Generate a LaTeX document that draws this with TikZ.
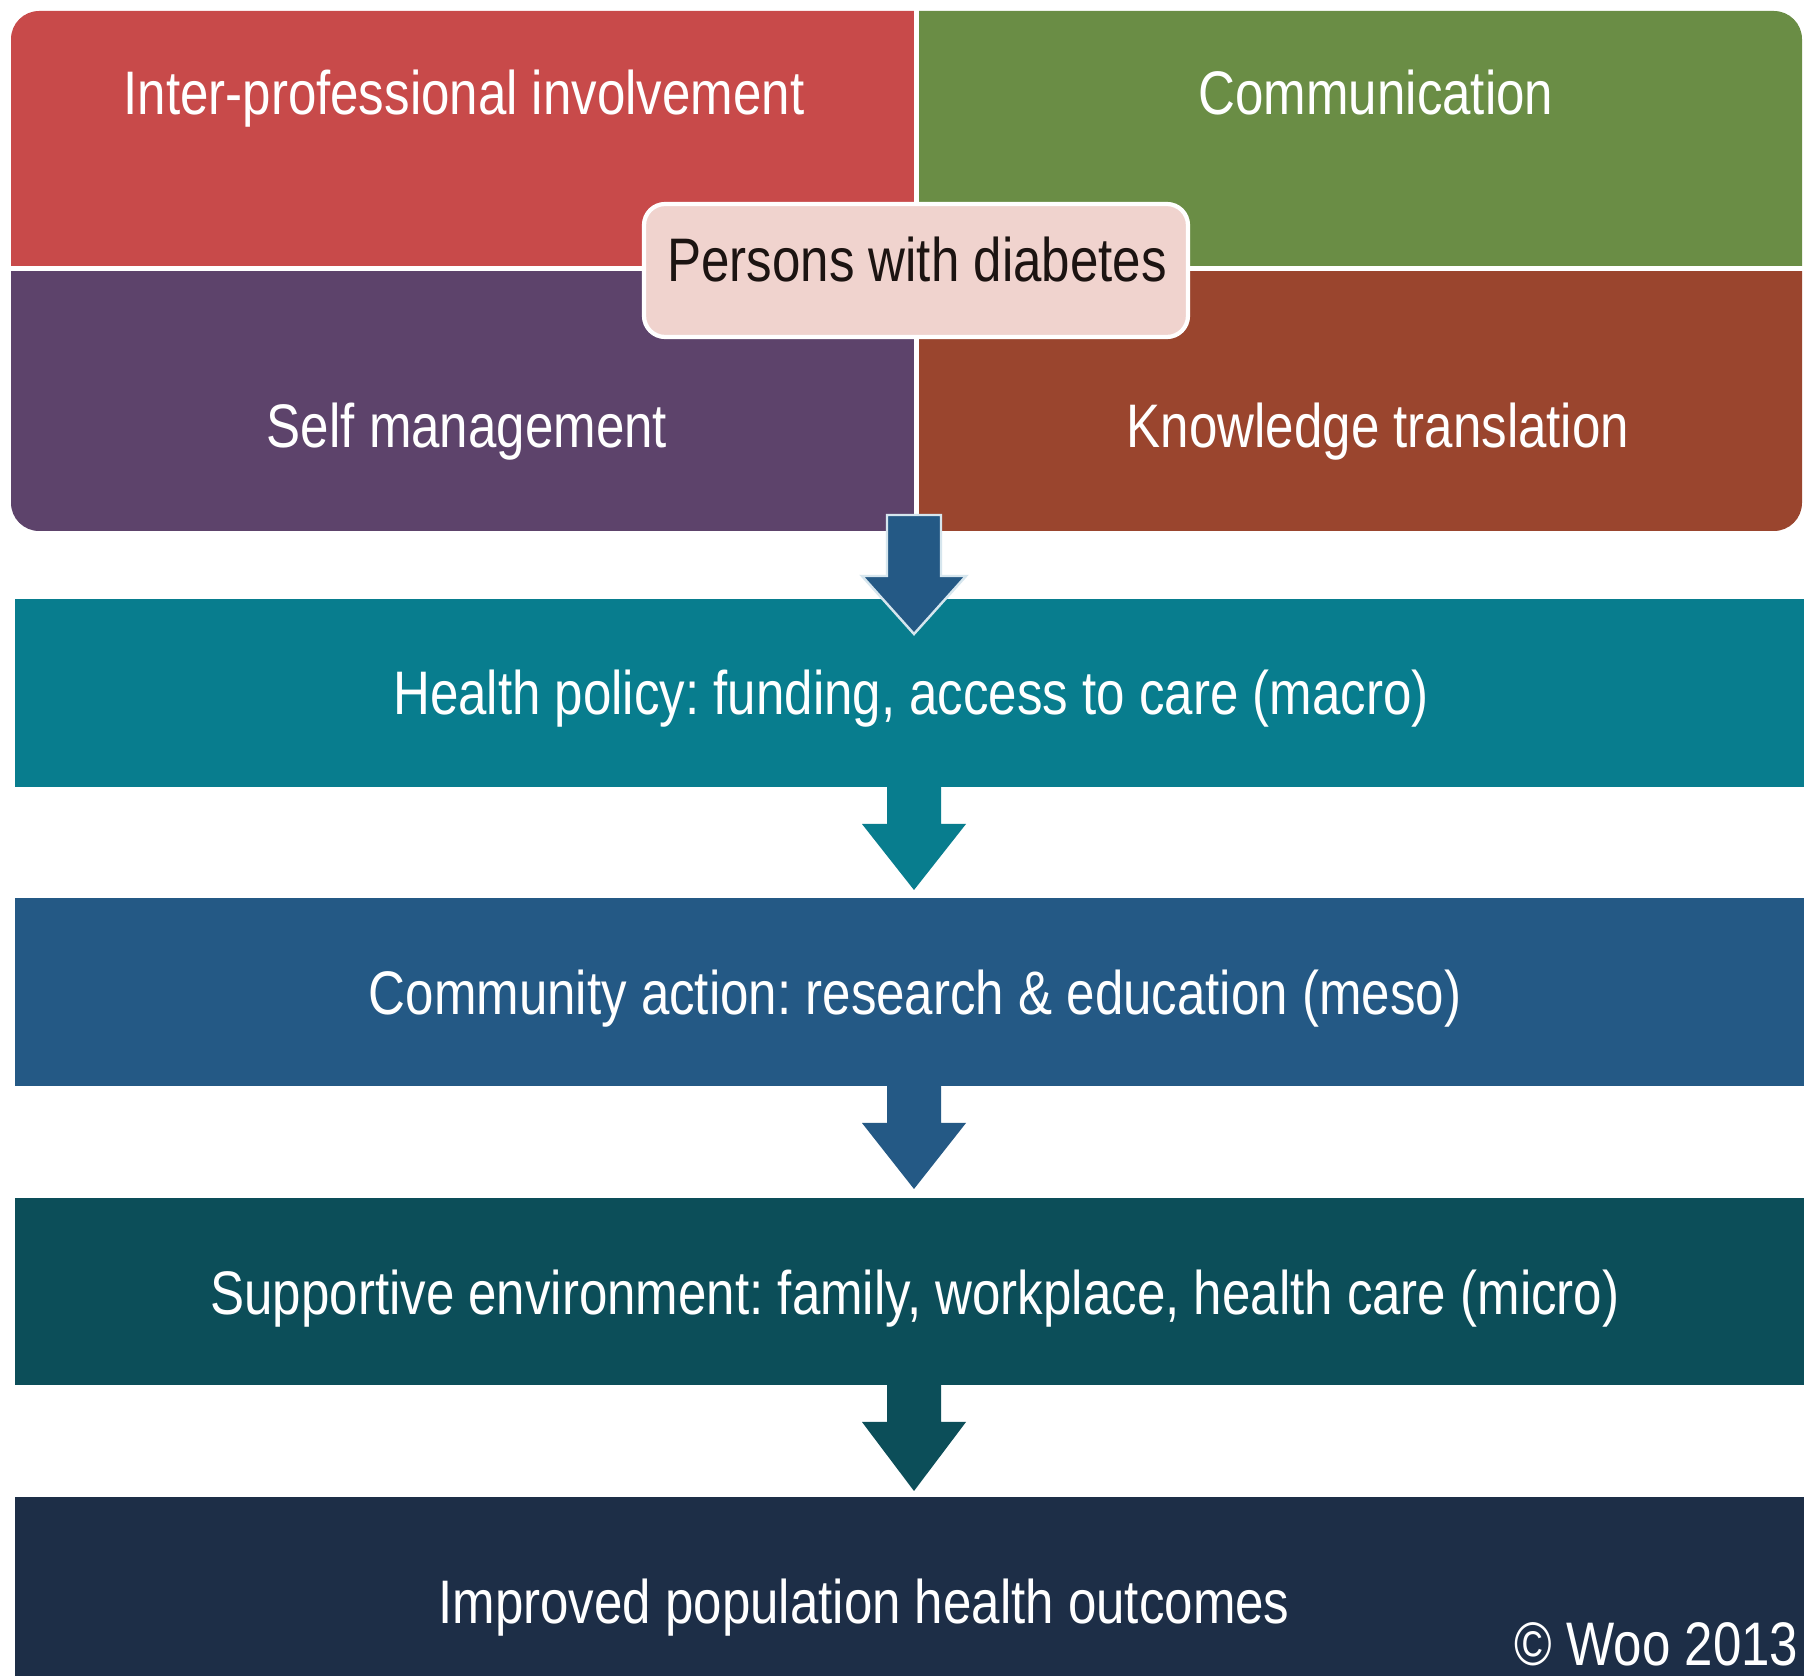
\documentclass[tikz,border=0pt]{standalone}
\usepackage{fontspec}
\setmainfont{Liberation Sans}[FakeStretch=0.83]
\frenchspacing
\definecolor{cRed}{HTML}{C84A4A}
\definecolor{cGreen}{HTML}{6A8D45}
\definecolor{cPurple}{HTML}{5D436B}
\definecolor{cBrown}{HTML}{9A452E}
\definecolor{cPill}{HTML}{F0D3CE}
\definecolor{cMacro}{HTML}{087D8E}
\definecolor{cMeso}{HTML}{245985}
\definecolor{cMicro}{HTML}{0C4E59}
\definecolor{cOutcome}{HTML}{1D2E47}
\definecolor{cEdge}{HTML}{D6E6EE}
\definecolor{cInk}{HTML}{1C1412}
\begin{document}
\begin{tikzpicture}[x=0.1mm,y=-0.1mm,
  lbl/.style={text=white, font=\fontsize{17.5}{21}\selectfont,
    inner sep=0pt, anchor=base},
  band/.style={minimum width=179mm, inner sep=0pt, anchor=north west},
  pill/.style={fill=cPill, draw=white, line width=1.2pt, rounded corners=6pt,
    minimum width=54.4mm, minimum height=13.3mm, inner sep=0pt}]
\useasboundingbox (0,0) rectangle (1804,1676);
\fill[white] (0,0) rectangle (1804,1676);

% four quadrants of the upper block
\begin{scope}
  \clip[rounded corners=8pt] (11,11) rectangle (1802,531);
  \fill[cRed]    (0,0)     rectangle (914,266);
  \fill[cGreen]  (919,0)   rectangle (1804,266);
  \fill[cPurple] (0,271)   rectangle (914,540);
  \fill[cBrown]  (919,271) rectangle (1804,540);
\end{scope}
\node[lbl] (inter) at (464,115)  {Inter-professional involvement};
\node[lbl] (comm)  at (1376,115) {Communication};
\node[lbl] (self)  at (467,448)  {Self management};
\node[lbl] (know)  at (1378,448) {Knowledge translation};
\node[pill] (pwd) at (916,270.5) {};
\node[lbl, text=cInk] (pwdtext) at (917,282) {Persons with diabetes};

% horizontal levels
\node[band, fill=cMacro,   minimum height=18.8mm] (macro)   at (14,598)  {};
\node[band, fill=cMeso,    minimum height=18.8mm] (meso)    at (14,897)  {};
\node[band, fill=cMicro,   minimum height=18.7mm] (micro)   at (14,1197) {};
\node[band, fill=cOutcome, minimum height=18mm]   (outcome) at (14,1496) {};
\node[lbl] (macrotext) at (911,715)  {Health policy: funding, access to care (macro)};
\node[lbl] (mesotext)  at (915,1015) {Community action: research \& education (meso)};
\node[lbl] (microtext) at (915,1315) {Supportive environment: family, workplace, health care (micro)};
\node[lbl] (outtext)   at (864,1623) {Improved population health outcomes};
\node[lbl, anchor=base east] (copy) at (1799,1666) {© Woo 2013};

% block arrows between the levels
\newcommand\stagearrow[5]{% colour, x, shaft top, head base, tip
  \path[#1] (#2-27,#3) -- (#2+27,#3) -- (#2+27,#4) -- (#2+52,#4)
    -- (#2,#5) -- (#2-52,#4) -- (#2-27,#4) -- cycle;}
\stagearrow{fill=cMeso, draw=cEdge, line width=0.7pt}{914}{515}{576}{634}
\stagearrow{fill=cMacro}{914}{784}{824}{890}
\stagearrow{fill=cMeso}{914}{1083}{1123}{1189}
\stagearrow{fill=cMicro}{914}{1382}{1422}{1491}
\end{tikzpicture}
\end{document}
